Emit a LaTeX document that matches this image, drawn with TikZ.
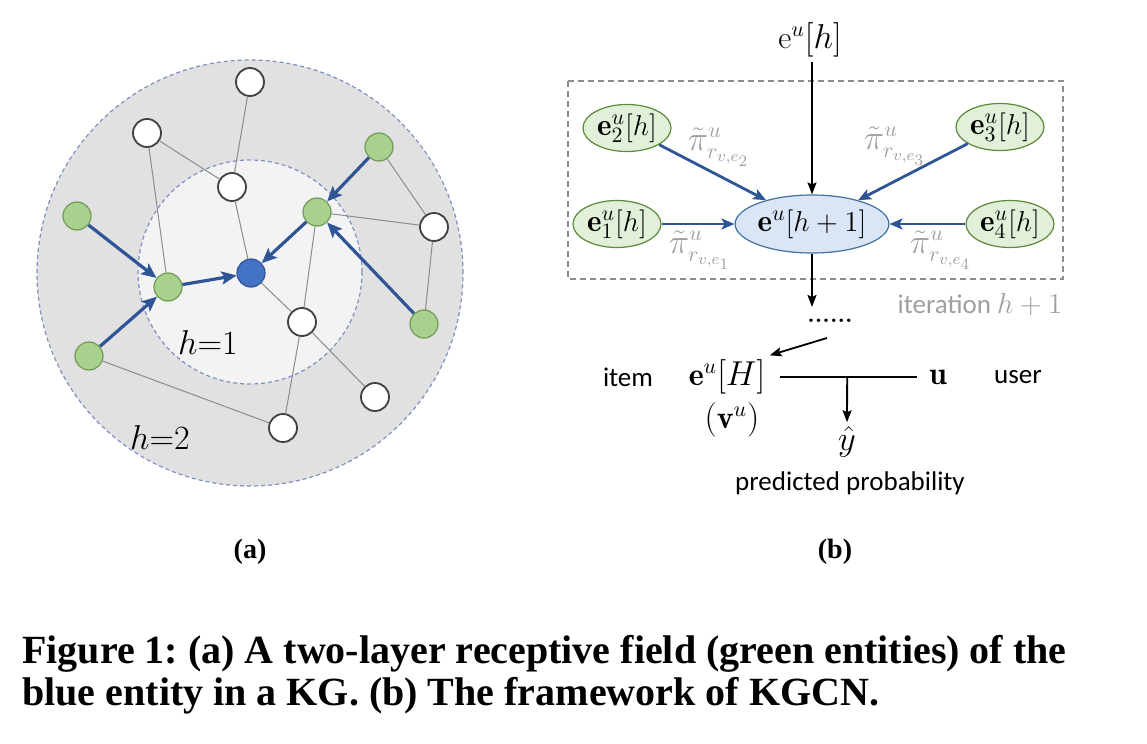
\documentclass[tikz,border=0pt]{standalone}
\usepackage{fontspec}
\newfontfamily\capfont{Liberation Serif}
\newfontfamily\carl{Carlito}
\usetikzlibrary{arrows.meta,shapes.geometric,calc}
\definecolor{outerfill}{HTML}{E1E1E1}
\definecolor{innerfill}{HTML}{F3F3F3}
\definecolor{circleblue}{HTML}{7F8FC4}
\definecolor{gfill}{HTML}{A9D18E}
\definecolor{gdark}{HTML}{6F9A55}
\definecolor{bfill}{HTML}{4472C4}
\definecolor{bdark}{HTML}{2F5597}
\definecolor{arrowblue}{HTML}{2F5597}
\definecolor{edgegray}{HTML}{8C8C8C}
\definecolor{ellgreen}{HTML}{E2F0D9}
\definecolor{ellgreendark}{HTML}{5A8A3A}
\definecolor{ellblue}{HTML}{DAE6F5}
\definecolor{ellbluedark}{HTML}{41719C}
\definecolor{pigray}{HTML}{A0A0A0}
\definecolor{boxgray}{HTML}{8C8C8C}
\frenchspacing
\begin{document}
\begin{tikzpicture}[x=0.5pt,y=-0.5pt,
  ent/.style={circle,minimum size=14pt,inner sep=0pt},
  wnode/.style={ent,draw=black!75,fill=white,line width=0.9pt},
  gnode/.style={ent,draw=gdark,fill=gfill,line width=0.6pt},
  bnode/.style={ent,draw=bdark,fill=bfill,line width=0.6pt},
  kg/.style={draw=edgegray,line width=0.5pt},
  barrow/.style={draw=arrowblue,line width=1.6pt,-{Stealth[length=7.5pt,width=6.5pt,inset=1.5pt]}},
  rarrow/.style={draw=arrowblue,line width=1.4pt,-{Stealth[length=6.5pt,width=5.5pt,inset=1.5pt]}},
  karrow/.style={draw=black,line width=0.9pt,-{Stealth[length=6pt,width=4.5pt,inset=1pt]}},
  hlab/.style={font=\fontsize{17}{19}\selectfont,inner sep=0pt},
  mlab/.style={font=\fontsize{16}{18}\selectfont,inner sep=2pt},
  sans/.style={font=\carl\fontsize{13.5}{16}\selectfont,inner sep=2pt},
  gell/.style={ellipse,draw=ellgreendark,fill=ellgreen,line width=0.6pt,minimum width=44pt,minimum height=23.5pt,inner sep=0pt,font=\fontsize{15.5}{17}\selectfont},
  cell/.style={ellipse,draw=ellbluedark,fill=ellblue,line width=0.6pt,minimum width=72.5pt,minimum height=29pt,inner sep=0pt,font=\fontsize{15.5}{17}\selectfont},
  pilab/.style={text=pigray,font=\fontsize{16}{18}\selectfont,inner sep=0pt},
  captxt/.style={anchor=base west,font=\capfont\bfseries\fontsize{20}{24}\selectfont,inner sep=0pt},
  sublab/.style={anchor=base,font=\capfont\bfseries\fontsize{14}{16}\selectfont,inner sep=0pt}
]
\fill[white] (0,0) rectangle (1147,744);
\useasboundingbox (0,0) rectangle (1147,744);

% ---------- panel (a) ----------
\fill[outerfill] (250,273) circle[radius=106.5pt];
\draw[circleblue,line width=0.6pt,dash pattern=on 2pt off 1.5pt] (250,273) circle[radius=106.5pt];
\fill[innerfill] (250,272) circle[radius=56pt];
\draw[circleblue,line width=0.6pt,dash pattern=on 2pt off 1.5pt] (250,272) circle[radius=56pt];

\node[wnode] (w1) at (250,82) {};
\node[wnode] (w2) at (147,133) {};
\node[wnode] (w3) at (232,187) {};
\node[gnode] (g1) at (379,147) {};
\node[gnode] (g2) at (317,212) {};
\node[wnode] (w4) at (434,227) {};
\node[gnode] (g3) at (77,216) {};
\node[gnode] (g4) at (168,287) {};
\node[bnode] (b) at (251,273) {};
\node[wnode] (w5) at (302,322) {};
\node[gnode] (g5) at (424,324) {};
\node[gnode] (g6) at (89,356) {};
\node[wnode] (w6) at (375,397) {};
\node[wnode] (w7) at (283,428) {};

\draw[kg] (w1) -- (w3);
\draw[kg] (w2) -- (w3);
\draw[kg] (w2) -- (g4);
\draw[kg] (w3) -- (b);
\draw[kg] (g2) -- (w4);
\draw[kg] (g1) -- (w4);
\draw[kg] (w4) -- (g5);
\draw[kg] (g2) -- (w5);
\draw[kg] (w5) -- (w7);
\draw[kg] (b) -- (w5);
\draw[kg] (w5) -- (w6);
\draw[kg] (g6) -- (w7);

\draw[barrow] (g3) -- (g4);
\draw[barrow] (g6) -- (g4);
\draw[barrow] (g4) -- (b);
\draw[barrow] (g2) -- (b);
\draw[barrow] (g1) -- (g2);
\draw[barrow] (g5) -- (g2);

\node[hlab] (h1) at (208,342) {$h$=1};
\node[hlab] (h2) at (160,437) {$h$=2};

% ---------- panel (b) ----------
\draw[boxgray,line width=0.7pt,dash pattern=on 3pt off 2pt] (568,81) rectangle (1063,279);
\node[cell] (c) at (812,224) {$\mathbf{e}^u[h+1]$};
\node[gell] (e1) at (617,224) {$\mathbf{e}^u_1[h]$};
\node[gell] (e2) at (627,128) {$\mathbf{e}^u_2[h]$};
\node[gell] (e3) at (1000,127) {$\mathbf{e}^u_3[h]$};
\node[gell] (e4) at (1010,224) {$\mathbf{e}^u_4[h]$};
\node[mlab] (top) at (810,40) {$\mathrm{e}^u[h]$};
\draw[karrow] (top.south -| c.north) -- (c);
\draw[rarrow] (e1) -- (c);
\draw[rarrow] (e2) -- (c);
\draw[rarrow] (e3) -- (c);
\draw[rarrow] (e4) -- (c);
\node[pilab] (p2) at (719,147) {$\tilde{\pi}^u_{r_{v,e_2}}$};
\node[pilab] (p3) at (895,146) {$\tilde{\pi}^u_{r_{v,e_3}}$};
\node[pilab] (p1) at (700,250) {$\tilde{\pi}^u_{r_{v,e_1}}$};
\node[pilab] (p4) at (941,250) {$\tilde{\pi}^u_{r_{v,e_4}}$};
\node[sans,text=pigray] (iter) at (980,305) {iteration $h+1$};

\coordinate (dtop) at (812,307);
\draw[karrow] (c) -- (dtop);
\node[font=\bfseries\fontsize{12}{14}\selectfont,inner sep=0pt] (dots) at (830,321) {......};
\coordinate (dstart) at (827,338);

\node[sans] (item) at (628,377) {item};
\node[mlab] (eH) at (727,377) {$\mathbf{e}^u[H]$};
\node[mlab] (vu) at (732,420) {$(\mathbf{v}^u)$};
\node[mlab] (u) at (938,377) {$\mathbf{u}$};
\node[sans] (user) at (1018,377) {user};
\node[mlab] (yhat) at (847,442) {$\hat{y}$};
\node[sans] (pp) at (850,483) {predicted probability};
\draw[karrow] (dstart) -- (eH.north east);
\draw[black,line width=0.9pt,shorten <=5pt,shorten >=4pt] (eH.east) -- (u.west);
\coordinate (j) at ($(eH.east)!0.5!(u.west)$);
\draw[karrow] (j) -- (yhat);

% ---------- captions ----------
\node[sublab] (la) at (250,558) {(a)};
\node[sublab] (lb) at (835,558) {(b)};
\node[captxt] (cap1) at (22,663) {Figure 1: (a) A two-layer receptive field (green entities) of the};
\node[captxt] (cap2) at (22,705) {blue entity in a KG. (b) The framework of KGCN.};
\end{tikzpicture}
\end{document}
